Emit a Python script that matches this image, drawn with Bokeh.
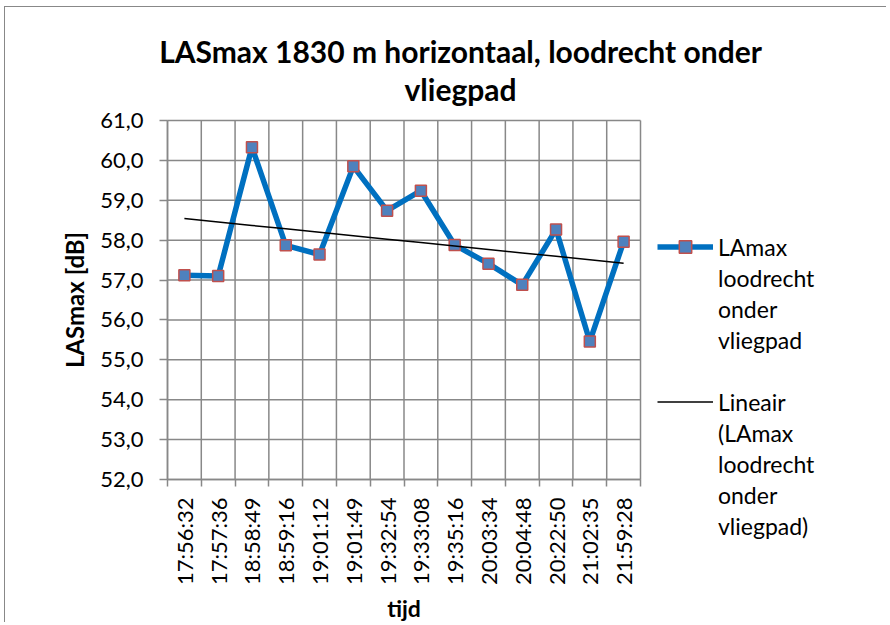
import numpy as np
from bokeh.plotting import figure
from bokeh.models import (FixedTicker, Legend, LegendItem, Label, ColumnDataSource)
from bokeh.embed import file_html
from bokeh.resources import INLINE

times = ["17:56:32", "17:57:36", "18:58:49", "18:59:16", "19:01:12", "19:01:49", "19:32:54",
         "19:33:08", "19:35:16", "20:03:34", "20:04:48", "20:22:50", "21:02:35", "21:59:28"]
lasmax = [57.12, 57.10, 60.33, 57.87, 57.64, 59.85, 58.74, 59.24, 57.88, 57.41, 56.88, 58.27, 55.46, 57.96]
y_ticks = [52, 53, 54, 55, 56, 57, 58, 59, 60, 61]
title_lines = ["LASmax 1830 m horizontaal, loodrecht onder", "vliegpad"]
legend_series = ["LAmax", "loodrecht", "onder", "vliegpad"]
legend_trend = ["Lineair", "(LAmax", "loodrecht", "onder", "vliegpad)"]

xs = list(range(1, len(times) + 1))
slope, intercept = np.polyfit(xs, lasmax, 1)
trend = [slope * x + intercept for x in xs]

# ---- layout in pixels (page coordinates) ----
FONT = "Lato"
OX, OY = 5, 7                 # canvas offset on the page
W, H = 882, 616               # canvas size
PLOT_L, PLOT_T = 167, 120     # top-left of the data area on the page
DATA_W, DATA_H = 473, 359
TITLE_CX, TITLE_Y = 460, (50, 88)
LEG_X, LEG_BOTTOM = 657, 541

x0, x1 = 0.5, len(times) + 0.5
y0, y1 = min(y_ticks), max(y_ticks)
px_x = DATA_W / (x1 - x0)
px_y = DATA_H / (y1 - y0)
left_in = PLOT_L - OX
top_in = PLOT_T - OY
x_start = x0 - left_in / px_x
x_end = x0 + (W - left_in) / px_x
y_end = y1 + top_in / px_y
y_start = y0 - (H - top_in - DATA_H) / px_y

p = figure(width=W, height=H, output_backend="svg", toolbar_location=None,
           x_range=(x_start, x_end), y_range=(y_start, y_end),
           min_border_left=0, min_border_top=0, min_border_right=0, min_border_bottom=0)
p.margin = (OY - 1, 0, 0, OX - 1)
p.outline_line_color = None
p.border_fill_color = "white"
p.background_fill_color = "white"
p.styles = {"border-left": "1px solid #888888", "border-top": "1px solid #888888"}
p.xgrid.visible = False
p.ygrid.visible = False
p.title.visible = False

# title lines
for line, ty in zip(title_lines, TITLE_Y):
    p.add_layout(Label(x=x0 + (TITLE_CX - PLOT_L) / px_x, y=y1 + (PLOT_T - ty) / px_y,
                       text=line, text_align="center", text_baseline="middle",
                       text_font=FONT, text_font_size="30px", text_font_style="bold",
                       text_color="black"))

# grid lines (only over the data area)
bounds = [x0 + i for i in range(len(times) + 1)]
p.segment(x0=bounds, x1=bounds, y0=[y0] * len(bounds), y1=[y1] * len(bounds),
          line_color="#888888", line_width=1.5)
p.segment(x0=[x0] * len(y_ticks), x1=[x1] * len(y_ticks), y0=y_ticks, y1=y_ticks,
          line_color="#888888", line_width=1.5)

# x axis
xa = p.xaxis[0]
xa.fixed_location = y0
xa.bounds = (x0, x1)
xa.ticker = FixedTicker(ticks=xs, minor_ticks=bounds)
xa.major_label_overrides = {x: t for x, t in zip(xs, times)}
xa.major_label_orientation = np.pi / 2
xa.major_tick_line_color = None
xa.minor_tick_out = 7
xa.minor_tick_in = 0
xa.minor_tick_line_color = "#888888"
xa.minor_tick_line_width = 1.5
xa.axis_line_color = "#888888"
xa.axis_line_width = 1.5
xa.major_label_text_font = FONT
xa.major_label_text_font_size = "22px"
xa.major_label_text_color = "black"
xa.major_label_standoff = 11
xa.axis_label = "tijd"
xa.axis_label_text_font = FONT
xa.axis_label_text_font_size = "23px"
xa.axis_label_text_font_style = "bold"
xa.axis_label_text_color = "black"
xa.axis_label_standoff = 6

# y axis
ya = p.yaxis[0]
ya.fixed_location = x0
ya.bounds = (y0, y1)
ya.ticker = FixedTicker(ticks=y_ticks)
ya.major_label_overrides = {v: f"{v},0" for v in y_ticks}
ya.minor_tick_line_color = None
ya.major_tick_out = 8
ya.major_tick_in = 0
ya.major_tick_line_color = "#888888"
ya.major_tick_line_width = 1.5
ya.axis_line_color = "#888888"
ya.axis_line_width = 1.5
ya.major_label_text_font = FONT
ya.major_label_text_font_size = "22px"
ya.major_label_text_color = "black"
ya.major_label_standoff = 16
ya.axis_label = "LASmax [dB]"
ya.axis_label_text_font = FONT
ya.axis_label_text_font_size = "24px"
ya.axis_label_text_font_style = "bold"
ya.axis_label_text_color = "black"
ya.axis_label_standoff = 8

src = ColumnDataSource(dict(x=xs, y=lasmax, t=trend))
ln = p.line("x", "y", source=src, line_color="#0070C0", line_width=5.5)
mk = p.scatter("x", "y", source=src, marker="square", size=11, fill_color="#4F81BD",
               line_color="#C0504D", line_width=1.5)
tr = p.line("x", "t", source=src, line_color="black", line_width=1.5)
ghost = p.line(x=[], y=[], line_alpha=0)

items = [LegendItem(label=legend_series[0], renderers=[ln, mk])]
items += [LegendItem(label=s, renderers=[ghost]) for s in legend_series[1:]]
items += [LegendItem(label=" ", renderers=[ghost])]
items += [LegendItem(label=legend_trend[0], renderers=[tr])]
items += [LegendItem(label=s, renderers=[ghost]) for s in legend_trend[1:]]

legend = Legend(items=items, location=(LEG_X - OX, OY + H - LEG_BOTTOM), orientation="vertical",
                border_line_color=None, background_fill_alpha=0,
                label_text_font=FONT, label_text_font_size="23px", label_text_color="black",
                glyph_width=56, glyph_height=31, label_standoff=5, spacing=0, padding=0,
                label_height=31, margin=0)
p.add_layout(legend, "center")

open("out.html", "w").write(file_html(p, INLINE))
